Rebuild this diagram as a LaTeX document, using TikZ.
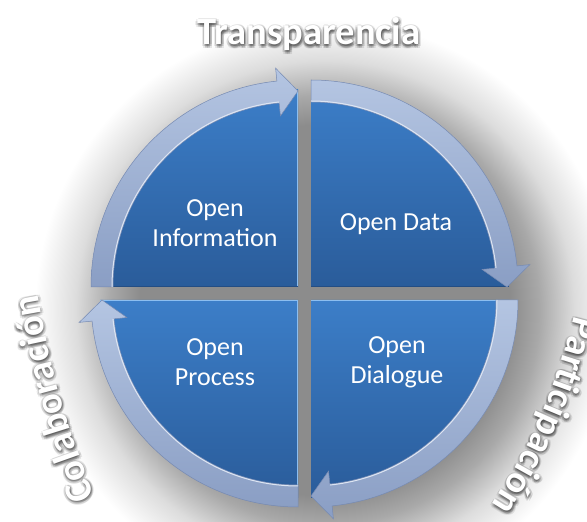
\documentclass[tikz,border=0pt]{standalone}
\usepackage{fontspec}
\setmainfont{Carlito}
\usetikzlibrary{decorations.text}
\definecolor{qtop}{RGB}{60,126,200}
\definecolor{qbot}{RGB}{42,92,154}
\definecolor{qhi}{RGB}{140,190,240}
\definecolor{qlo}{RGB}{36,78,132}
\definecolor{btop}{RGB}{180,197,226}
\definecolor{bbot}{RGB}{138,158,196}
\definecolor{bedge}{RGB}{118,138,178}
\definecolor{shd}{RGB}{140,140,140}
\pgfdeclareradialshading{softshadow}{\pgfpoint{0bp}{0bp}}{color(0bp)=(shd); color(16bp)=(shd); color(18.5bp)=(shd!75!white); color(21.5bp)=(shd!30!white); color(25bp)=(white); color(50bp)=(white)}
\newcommand\lblfmt{\fontsize{38.5}{40}\selectfont\bfseries}
\begin{document}
\begin{tikzpicture}[x=1pt,y=1pt,
  quad/.style={top color=qtop, bottom color=qbot},
  band/.style={top color=btop, bottom color=bbot, draw=bedge, line width=0.5pt},
  qtext/.style={text=white, font=\fontsize{26}{30}\selectfont, align=center, inner sep=0pt},
  lbl/.style={font=\lblfmt, inner sep=0pt, anchor=base}]
\useasboundingbox (0,0) rectangle (587,522);
\begin{scope}
\clip (0,0) rectangle (587,522);
\fill[white] (0,0) rectangle (587,522);
\shade[shading=softshadow] (325,212) circle[radius=290pt];
\end{scope}
% quadrants
\foreach \cx/\cy/\s/\e in {298/235/180/90, 311/235/90/0, 311/222/0/-90, 298/222/-90/-180}{
  \shade[quad] (\cx,\cy) -- ([shift={(\cx,\cy)}]\s:198pt) arc[start angle=\s, end angle=\e, radius=198pt] -- cycle;
}
\draw[qhi, line width=1.2pt] (297.4,235.6) -- (297.4,432);
\draw[qlo, line width=1pt] (100,235.5) -- (298,235.5);
\draw[qlo, line width=1pt] (311,235.5) -- (509,235.5);
\draw[qhi, line width=1.2pt] (311,221.4) -- (509,221.4);
\draw[qhi, line width=1.2pt] (100,221.4) -- (298,221.4);
\draw[qhi, line width=1.2pt] (297.4,221.4) -- (297.4,24);
% arrow bands
\foreach \cx/\cy/\s/\e in {298/235/180/90, 311/235/90/0, 311/222/0/-90, 298/222/-90/-180}{
  \shade[band] ([shift={(\cx,\cy)}]\s:185pt) -- ([shift={(\cx,\cy)}]\s:207pt)
    arc[start angle=\s, end angle=\e+5.85, radius=207pt]
    -- ([shift={(\cx,\cy)}]\e+5.85:220pt) -- ([shift={(\cx,\cy)}]\e:196pt)
    -- ([shift={(\cx,\cy)}]\e+5.85:172pt) -- ([shift={(\cx,\cy)}]\e+5.85:185pt)
    arc[start angle=\e+5.85, end angle=\s, radius=185pt] -- cycle;
  \draw[white!55!btop, line width=1pt] ([shift={(\cx,\cy)}]\s:186pt) arc[start angle=\s, end angle=\e+5.85, radius=186pt];
}
% quadrant texts
\node[qtext] (tinfo) at (215,298.5) {Open\\Information};
\node[qtext] (tdata) at (396,298) {Open Data};
\node[qtext] (tproc) at (215,160) {Open\\Process};
\node[qtext] (tdial) at (397,160) {Open\\Dialogue};
% outer labels: soft glow
\begin{scope}[opacity=0.09]
\foreach \dx/\dy [count=\i] in {3/-1.5, -2/-1.5, 0.5/1, 0.5/-4, 2.3/0.3, -1.3/0.3, 2.3/-3.3, -1.3/-3.3, 1.5/-1.5, -0.5/-1.5, 0.5/-0.5, 0.5/-2.5}{
  \node[lbl, text=black] (gT\i) at (309+\dx,477+\dy) {Transparencia};
  \path[decorate, decoration={text along path, text align=center, text={|\lblfmt\color{black}|Colaboración}}]
    (108+\dx,-7+\dy) to[bend left=7] (32+\dx,263+\dy);
  \path[decorate, decoration={text along path, text align=center, text={|\lblfmt\color{black}|Participación}}]
    (583+\dx,244+\dy) to[bend left=11] (471+\dx,-15+\dy);
}
\end{scope}
\node[lbl, text=white] (ttrans) at (309,477) {Transparencia};
\path[decorate, decoration={text along path, text align=center, text={|\lblfmt\color{white}|Colaboración}}]
  (108,-7) to[bend left=7] (32,263);
\path[decorate, decoration={text along path, text align=center, text={|\lblfmt\color{white}|Participación}}]
  (583,244) to[bend left=11] (471,-15);
\end{tikzpicture}
\end{document}
